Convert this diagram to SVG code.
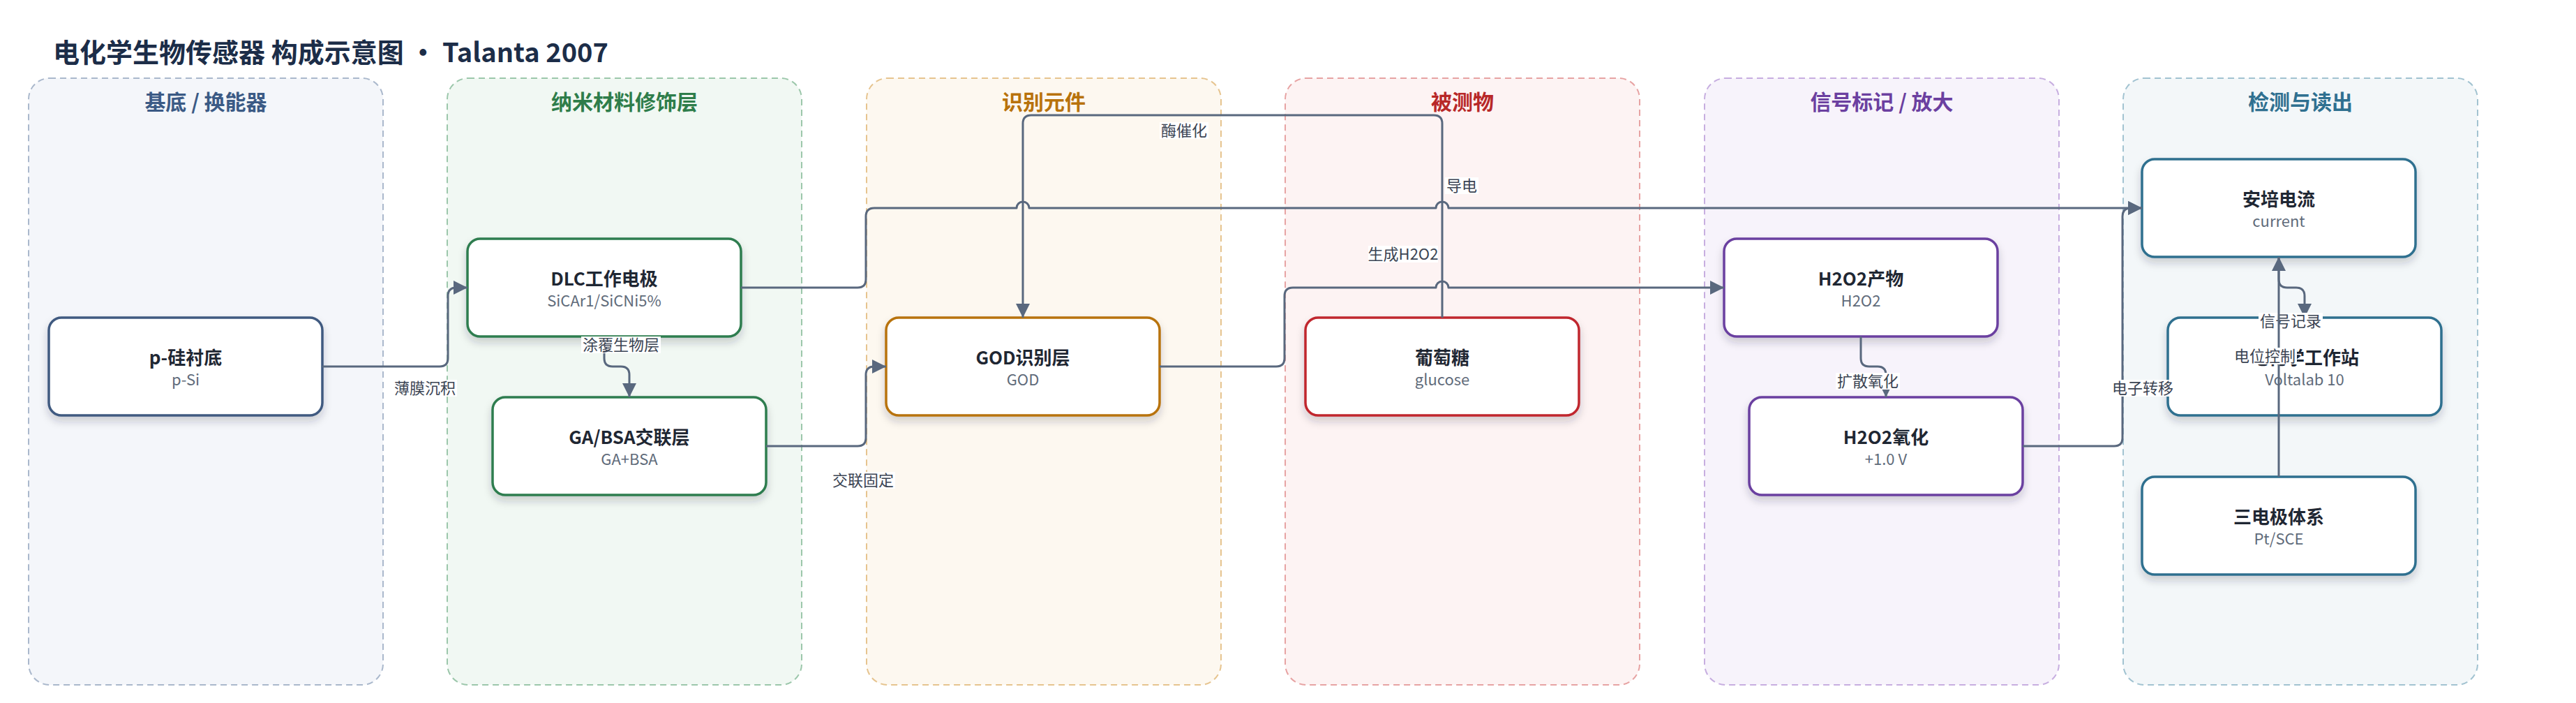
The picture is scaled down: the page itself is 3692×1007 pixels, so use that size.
<svg xmlns="http://www.w3.org/2000/svg" width="3692" height="1007" viewBox="0 0 3692 1007">
<defs>
<filter id="sh" x="-10%" y="-10%" width="120%" height="140%">
<feDropShadow dx="0" dy="7" stdDeviation="6" flood-color="#1e293b" flood-opacity="0.2"/>
</filter>
<marker id="arr" markerUnits="userSpaceOnUse" markerWidth="20" markerHeight="20" viewBox="0 0 20 20" refX="20" refY="10" orient="auto">
<path d="M0,0 L20,10 L0,20 Z" fill="#59687e"/>
</marker>
</defs>
<style>
text{font-family:"Noto Sans CJK SC","Noto Sans",sans-serif}
.title{font-size:38px;font-weight:700;fill:#1c2d48}
.grp rect{stroke-width:2;stroke-dasharray:9 6}
.gt{font-size:30px;font-weight:700;text-anchor:middle}
.node rect{fill:#fff;stroke-width:3.5;filter:url(#sh)}
.nt{font-size:26px;font-weight:700;fill:#1f2733;text-anchor:middle}
.ns{font-size:22px;fill:#5f6b7a;text-anchor:middle}
.edge{fill:none;stroke:#59687e;stroke-width:3;stroke-linejoin:round}
.arrow{marker-end:url(#arr)}
.lb rect{fill:#fff}
.lb text{font-size:22px;fill:#3b4453;text-anchor:middle}
</style>
<rect width="3692" height="1007" fill="#fff"/>
<text class="title" x="76" y="89">电化学生物传感器 构成示意图 • Talanta 2007</text>

<g id="groups">
<g id="g-substrate" class="grp"><rect x="41" y="112" width="508" height="869" rx="30" fill="#f4f6fa" stroke="#aab8cc"/><text class="gt" x="295" y="157" fill="#3b5a85">基底 / 换能器</text></g>
<g id="g-nano" class="grp"><rect x="641" y="112" width="508" height="869" rx="30" fill="#f1f8f3" stroke="#9cc7ab"/><text class="gt" x="895" y="157" fill="#2e7d4a">纳米材料修饰层</text></g>
<g id="g-recog" class="grp"><rect x="1242" y="112" width="508" height="869" rx="30" fill="#fdf8f0" stroke="#e6c48f"/><text class="gt" x="1496" y="157" fill="#b8720b">识别元件</text></g>
<g id="g-analyte" class="grp"><rect x="1842" y="112" width="508" height="869" rx="30" fill="#fdf3f3" stroke="#e7a3a3"/><text class="gt" x="2096" y="157" fill="#b82828">被测物</text></g>
<g id="g-signal" class="grp"><rect x="2443" y="112" width="508" height="869" rx="30" fill="#f7f3fb" stroke="#c7aee0"/><text class="gt" x="2697" y="157" fill="#6b3fa0">信号标记 / 放大</text></g>
<g id="g-detect" class="grp"><rect x="3043" y="112" width="508" height="869" rx="30" fill="#f3f7f9" stroke="#a2c3d1"/><text class="gt" x="3297" y="157" fill="#2f7090">检测与读出</text></g>
</g>

<g id="nodes">
<g id="n-psi" class="node"><rect x="70" y="455" width="392" height="140" rx="18" stroke="#3f5a80"/><text class="nt" x="266" y="522">p-硅衬底</text><text class="ns" x="266" y="552">p-Si</text></g>
<g id="n-dlc" class="node"><rect x="670" y="342" width="392" height="140" rx="18" stroke="#2e7d4f"/><text class="nt" x="866" y="409">DLC工作电极</text><text class="ns" x="866" y="439">SiCAr1/SiCNi5%</text></g>
<g id="n-gabsa" class="node"><rect x="706" y="569" width="392" height="140" rx="18" stroke="#2e7d4f"/><text class="nt" x="902" y="636">GA/BSA交联层</text><text class="ns" x="902" y="666">GA+BSA</text></g>
<g id="n-god" class="node"><rect x="1270" y="455" width="392" height="140" rx="18" stroke="#b8730c"/><text class="nt" x="1466" y="522">GOD识别层</text><text class="ns" x="1466" y="552">GOD</text></g>
<g id="n-glucose" class="node"><rect x="1871" y="455" width="392" height="140" rx="18" stroke="#c0282d"/><text class="nt" x="2067" y="522">葡萄糖</text><text class="ns" x="2067" y="552">glucose</text></g>
<g id="n-h2o2p" class="node"><rect x="2471" y="342" width="392" height="140" rx="18" stroke="#6b3fa0"/><text class="nt" x="2667" y="409">H2O2产物</text><text class="ns" x="2667" y="439">H2O2</text></g>
<g id="n-h2o2ox" class="node"><rect x="2507" y="569" width="392" height="140" rx="18" stroke="#6b3fa0"/><text class="nt" x="2703" y="636">H2O2氧化</text><text class="ns" x="2703" y="666">+1.0 V</text></g>
<g id="n-amp" class="node"><rect x="3070" y="228" width="392" height="140" rx="18" stroke="#2f6f8f"/><text class="nt" x="3266" y="295">安培电流</text><text class="ns" x="3266" y="325">current</text></g>
<g id="n-station" class="node"><rect x="3107" y="455" width="392" height="140" rx="18" stroke="#2f6f8f"/><text class="nt" x="3303" y="522">电化学工作站</text><text class="ns" x="3303" y="552">Voltalab 10</text></g>
<g id="n-three" class="node"><rect x="3070" y="683" width="392" height="140" rx="18" stroke="#2f6f8f"/><text class="nt" x="3266" y="750">三电极体系</text><text class="ns" x="3266" y="780">Pt/SCE</text></g>
</g>

<g id="connectors">
<path class="edge arrow" d="M462,525 H630 Q642,525 642,513 V424 Q642,412 654,412 H670"/>
<path class="edge arrow" d="M866,482 V513 Q866,525 878,525 H890 Q902,525 902,537 V569"/>
<path class="edge arrow" d="M1098,639 H1229 Q1241,639 1241,627 V537 Q1241,525 1253,525 H1270"/>
<path class="edge arrow" d="M2067,455 V177 Q2067,165 2055,165 H1478 Q1466,165 1466,177 V455"/>
<path class="edge arrow" d="M1062,412 H1229 Q1241,412 1241,400 V310 Q1241,298 1253,298 H1457 A9,9 0 0 1 1475,298 H2058 A9,9 0 0 1 2076,298 H3070"/>
<path class="edge arrow" d="M1662,525 H1829 Q1841,525 1841,513 V424 Q1841,412 1853,412 H2058 A9,9 0 0 1 2076,412 H2471"/>
<path class="edge arrow" d="M2667,482 V513 Q2667,525 2679,525 H2691 Q2703,525 2703,537 V569"/>
<path class="edge arrow" d="M2899,639 H3030 Q3042,639 3042,627 V310 Q3042,298 3054,298 H3070"/>
<path class="edge arrow" d="M3266,368 V400 Q3266,412 3278,412 H3291 Q3303,412 3303,424 V455"/>
<g class="lb">
<rect x="563" y="544" width="92" height="24"/><text x="609" y="564">薄膜沉积</text>
<rect x="833" y="482" width="114" height="24"/><text x="890" y="502">涂覆生物层</text>
<rect x="1191" y="676" width="92" height="24"/><text x="1237" y="696">交联固定</text>
<rect x="1662" y="175" width="70" height="24"/><text x="1697" y="195">酶催化</text>
<rect x="2071" y="254" width="48" height="24"/><text x="2095" y="274">导电</text>
<rect x="1961" y="352" width="100" height="24"/><text x="2011" y="372">生成H2O2</text>
<rect x="2631" y="534" width="92" height="24"/><text x="2677" y="554">扩散氧化</text>
<rect x="3025" y="544" width="92" height="24"/><text x="3071" y="564">电子转移</text>
<rect x="3237" y="448" width="92" height="24"/><text x="3283" y="468">信号记录</text>
</g>
<path class="edge arrow" d="M3266,683 V368"/>
<g class="lb"><rect x="3200" y="498" width="92" height="24"/><text x="3246" y="518">电位控制</text></g>
</g>
</svg>
